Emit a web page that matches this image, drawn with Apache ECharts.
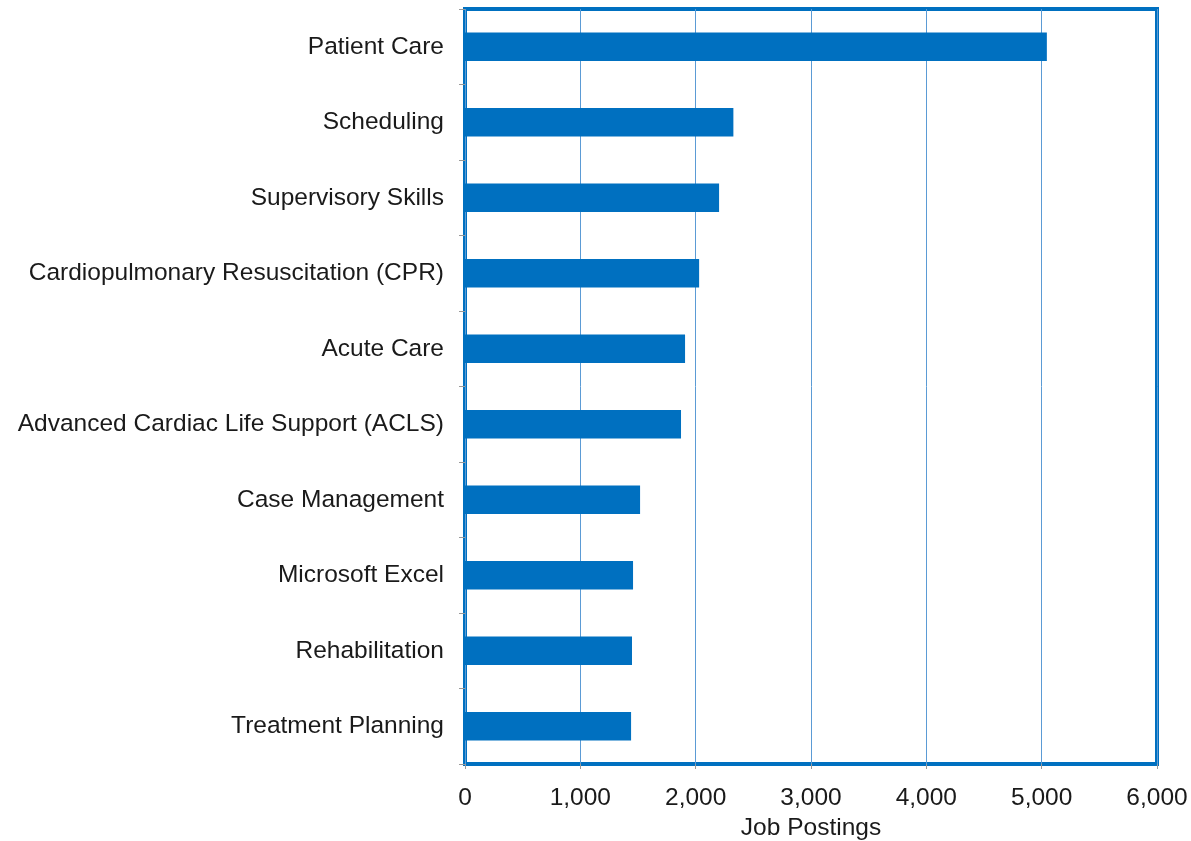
<!DOCTYPE html>
<html>
<head>
<meta charset="utf-8">
<script src="https://cdn.jsdelivr.net/npm/echarts@6/dist/echarts.min.js"></script>
<style>
  html, body { margin: 0; padding: 0; background: #fff; }
  #chart { width: 1191px; height: 841px; }
</style>
</head>
<body>
<div id="chart"></div>
<script>
// 技能类别（自上而下）
const skills = [
  'Patient Care',
  'Scheduling',
  'Supervisory Skills',
  'Cardiopulmonary Resuscitation (CPR)',
  'Acute Care',
  'Advanced Cardiac Life Support (ACLS)',
  'Case Management',
  'Microsoft Excel',
  'Rehabilitation',
  'Treatment Planning'
];
// 职位发布数
const postings = [5045, 2327, 2203, 2030, 1908, 1873, 1518, 1457, 1448, 1440];

const chart = echarts.init(document.getElementById('chart'));
const font = 'Liberation Sans, Arial, sans-serif';

const option = {
  animation: false,
  grid: {
    left: 465,
    right: 34,
    top: 9,
    bottom: 77,
    outerBoundsMode: 'none',
    containLabel: false,
    show: true,
    borderColor: '#0070C0',
    borderWidth: 4,
    backgroundColor: '#fff'
  },
  xAxis: {
    type: 'value',
    min: 0,
    max: 6000,
    interval: 1000,
    name: 'Job Postings',
    nameLocation: 'middle',
    nameGap: 52,
    nameTextStyle: { fontFamily: font, fontSize: 24.5, color: '#1a1a1a' },
    axisLine: { show: false },
    axisTick: { show: true, length: 5, lineStyle: { color: '#999' } },
    axisLabel: {
      margin: 22,
      fontFamily: font,
      fontSize: 24.5,
      color: '#1a1a1a',
      formatter: v => v.toLocaleString('en-US')
    },
    splitLine: { show: true, lineStyle: { color: '#5B9BD5', width: 1 } }
  },
  yAxis: {
    type: 'category',
    data: skills,
    inverse: true,
    axisLine: { show: false },
    axisTick: { show: true, length: 6, lineStyle: { color: '#999' } },
    axisLabel: {
      margin: 21,
      fontFamily: font,
      fontSize: 24.5,
      color: '#1a1a1a'
    },
    splitLine: { show: false }
  },
  series: [
    {
      name: 'Job Postings',
      type: 'bar',
      data: postings,
      barWidth: '38%',
      itemStyle: { color: '#0070C0' }
    }
  ]
};
chart.setOption(option);
</script>
</body>
</html>
